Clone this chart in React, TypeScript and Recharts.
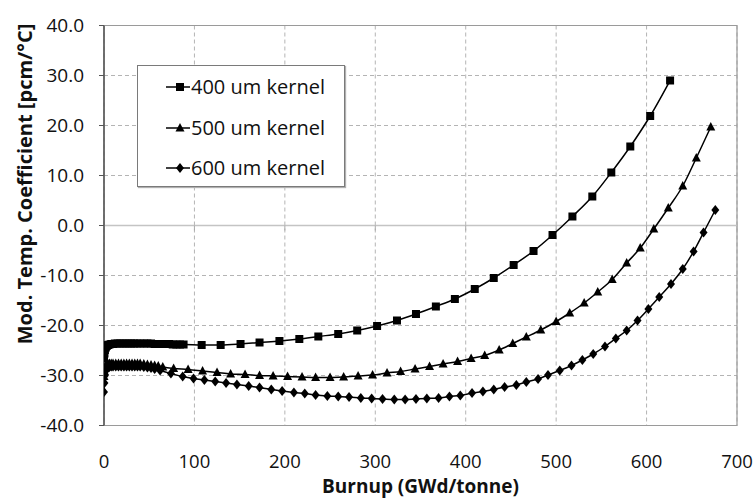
import {
  CartesianGrid,
  Legend,
  Line,
  LineChart,
  ReferenceArea,
  ReferenceLine,
  XAxis,
  YAxis,
} from "recharts";

// burnup (GWd/tonne) / moderator temperature coefficient (pcm/°C)
const burnup400 = [
  0, 0.5, 1, 2, 3, 4.5, 6, 8, 10, 12, 15, 18, 21, 24, 27, 30, 33, 36, 40, 44, 48,
  52, 56, 60, 64, 68, 72, 76, 80, 84, 88, 108, 129, 151, 172, 194, 216, 237, 259,
  280, 302, 324, 345, 367, 388, 410, 431, 453, 475, 496, 518, 540, 561, 582, 604,
  626,
];
const coef400 = [
  -26.6, -25.6, -24.9, -24.4, -24.1, -23.9, -23.8, -23.7, -23.7, -23.6, -23.6,
  -23.6, -23.6, -23.6, -23.6, -23.6, -23.6, -23.6, -23.6, -23.6, -23.6, -23.6,
  -23.7, -23.7, -23.7, -23.7, -23.7, -23.8, -23.8, -23.8, -23.8, -23.9, -23.9,
  -23.7, -23.4, -23.1, -22.7, -22.2, -21.7, -21.0, -20.1, -19.0, -17.7, -16.2,
  -14.7, -12.7, -10.5, -7.9, -5.1, -1.9, 1.8, 5.8, 10.6, 15.8, 21.9, 29.0,
];

const burnup500 = [
  0, 0.5, 1, 2, 3, 4.5, 6, 8, 10, 13, 16, 19, 22, 25, 28, 31, 34, 37, 40, 44, 48,
  52, 56, 60, 65, 77, 93, 109, 125, 140, 156, 172, 187, 203, 219, 234, 250, 265,
  281, 297, 313, 328, 344, 360, 375, 391, 406, 421, 437, 452, 467, 483, 500, 515,
  531, 546, 562, 578, 593, 608, 624, 640, 655, 671,
];
const coef500 = [
  -30.2, -29.2, -28.5, -28.0, -27.8, -27.7, -27.6, -27.6, -27.6, -27.6, -27.6,
  -27.6, -27.6, -27.6, -27.6, -27.6, -27.6, -27.6, -27.6, -27.7, -27.8, -27.9,
  -28.0, -28.1, -28.3, -28.6, -28.8, -29.1, -29.4, -29.7, -29.8, -30.0, -30.1,
  -30.2, -30.3, -30.4, -30.4, -30.3, -30.1, -29.9, -29.5, -29.2, -28.7, -28.2,
  -27.7, -27.2, -26.6, -26.0, -24.9, -23.6, -22.3, -20.9, -19.2, -17.5, -15.5,
  -13.3, -10.8, -7.5, -4.5, -0.7, 3.5, 7.9, 13.5, 19.7,
];

const burnup600 = [
  0, 0.5, 1, 2, 3, 4.5, 6, 8, 10, 13, 16, 19, 22, 25, 28, 31, 34, 37, 40, 44, 48,
  52, 56, 62, 74, 87, 99, 111, 123, 135, 147, 160, 172, 185, 197, 210, 222, 234,
  247, 259, 271, 284, 296, 308, 321, 333, 345, 357, 370, 382, 394, 407, 419, 431,
  443, 456, 467, 480, 491, 504, 517, 529, 541, 554, 566, 578, 590, 602, 614, 627,
  640, 652, 663, 676,
];
const coef600 = [
  -33.3, -31.5, -30.0, -29.0, -28.6, -28.4, -28.3, -28.2, -28.2, -28.2, -28.2,
  -28.2, -28.2, -28.2, -28.2, -28.2, -28.2, -28.2, -28.2, -28.3, -28.4, -28.5,
  -28.7, -29.0, -29.6, -30.2, -30.6, -30.9, -31.2, -31.5, -31.8, -32.1, -32.4,
  -32.8, -33.1, -33.4, -33.6, -33.9, -34.1, -34.2, -34.3, -34.5, -34.6, -34.7,
  -34.8, -34.8, -34.7, -34.6, -34.5, -34.2, -34.0, -33.5, -33.2, -32.8, -32.3,
  -31.9, -31.3, -30.7, -29.9, -29.0, -28.0, -26.9, -25.7, -24.2, -22.6, -21.0,
  -19.0, -16.7, -14.3, -11.7, -8.7, -5.2, -1.4, 3.1,
];

const xTicks = [0, 100, 200, 300, 400, 500, 600, 700];
const yTicks = [-40, -30, -20, -10, 0, 10, 20, 30, 40];

type Shape = "square" | "triangle" | "diamond";

const seriesList: { name: string; shape: Shape; data: { x: number; y: number }[] }[] = [
  { name: "400 um kernel", shape: "square", data: burnup400.map((x, i) => ({ x, y: coef400[i] })) },
  { name: "500 um kernel", shape: "triangle", data: burnup500.map((x, i) => ({ x, y: coef500[i] })) },
  { name: "600 um kernel", shape: "diamond", data: burnup600.map((x, i) => ({ x, y: coef600[i] })) },
];

const FONT = "'Open Sans', sans-serif";

function marker(shape: Shape, cx: number, cy: number, key?: number | string) {
  if (shape === "square") {
    return <rect key={key} x={cx - 4} y={cy - 4} width={8} height={8} fill="#000" />;
  }
  if (shape === "triangle") {
    return (
      <path
        key={key}
        d={`M${cx},${cy - 5}L${cx + 4.5},${cy + 3.5}L${cx - 4.5},${cy + 3.5}Z`}
        fill="#000"
      />
    );
  }
  return (
    <path
      key={key}
      d={`M${cx},${cy - 5}L${cx + 4},${cy}L${cx},${cy + 5}L${cx - 4},${cy}Z`}
      fill="#000"
    />
  );
}

const makeDot = (shape: Shape) => (p: any) => {
  const { cx, cy, index } = p;
  if (cx == null || cy == null) return <g key={`e${index}`} />;
  return marker(shape, cx, cy, `${shape}${index}`);
};

function LegendBox() {
  return (
    <div
      style={{
        boxSizing: "border-box",
        width: 208,
        height: 122,
        border: "1px solid #7a7a7a",
        boxShadow: "1px 1px 1px #b0b0b0",
        background: "#fff",
        padding: "1px 0 0 0",
        fontFamily: FONT,
      }}
    >
      {seriesList.map((s) => (
        <div
          key={s.name}
          style={{ display: "flex", alignItems: "center", height: 40.5 }}
        >
          <svg width={53} height={14} style={{ flex: "none" }}>
            <line x1={28} y1={7} x2={52} y2={7} stroke="#000" strokeWidth={1.5} />
            {marker(s.shape, 42, 7)}
          </svg>
          <span style={{ fontSize: 20, color: "#111", lineHeight: "20px" }}>{s.name}</span>
        </div>
      ))}
    </div>
  );
}

export default function App() {
  return (
    <div style={{ width: 753, height: 503, background: "#fff", fontFamily: FONT }}>
      <style>{"body{margin:0}"}</style>
      <LineChart
        width={753}
        height={503}
        margin={{ top: 25.5, right: 16, bottom: 0, left: 0 }}
      >
        <CartesianGrid stroke="#b4b4b4" strokeDasharray="4 3" />
        <ReferenceArea
          x1={0}
          x2={700}
          y1={-40}
          y2={40}
          fill="none"
          stroke="#9a9a9a"
          strokeWidth={1.2}
          ifOverflow="visible"
        />
        <ReferenceLine y={0} stroke="#c4c4c4" strokeWidth={1.5} />
        {xTicks.slice(1).map((t) => (
          <ReferenceLine
            key={`zt${t}`}
            segment={[
              { x: t, y: 0 },
              { x: t, y: -1 },
            ]}
            stroke="#a8a8a8"
          />
        ))}
        <XAxis
          type="number"
          dataKey="x"
          domain={[0, 700]}
          ticks={xTicks}
          interval={0}
          allowDataOverflow
          height={77.5}
          axisLine={false}
          tickLine={false}
          tickSize={0}
          tickMargin={29}
          tick={{ fill: "#111", fontSize: 18.5, fontFamily: FONT }}
          label={{
            value: "Burnup (GWd/tonne)",
            position: "insideBottom",
            offset: 10,
            fill: "#111",
            fontSize: 19,
            fontWeight: 700,
            fontFamily: FONT,
          }}
        />
        <YAxis
          type="number"
          domain={[-40, 40]}
          ticks={yTicks}
          interval={0}
          allowDataOverflow
          width={104}
          axisLine={{ stroke: "#555", strokeWidth: 1.5 }}
          tickLine={{ stroke: "#555" }}
          tickSize={5}
          tickMargin={15}
          tickFormatter={(v: number) => v.toFixed(1)}
          tick={{ fill: "#111", fontSize: 19, fontFamily: FONT }}
          label={() => (
            <text
              x={24}
              y={184}
              transform="rotate(-90 24 184)"
              textAnchor="middle"
              dominantBaseline="central"
              fill="#111"
              fontSize={20}
              fontWeight={700}
              fontFamily={FONT}
            >
              Mod. Temp. Coefficient [pcm/°C]
            </text>
          )}
        />
        <Legend
          layout="vertical"
          align="center"
          verticalAlign="middle"
          wrapperStyle={{ position: "absolute", top: 65, left: 137, width: 208, height: 122 }}
          content={() => <LegendBox />}
        />
        {seriesList.map((s) => (
          <Line
            key={s.name}
            name={s.name}
            data={s.data}
            dataKey="y"
            type="monotone"
            stroke="#000"
            strokeWidth={1.5}
            dot={makeDot(s.shape)}
            activeDot={false}
            isAnimationActive={false}
          />
        ))}
      </LineChart>
    </div>
  );
}
